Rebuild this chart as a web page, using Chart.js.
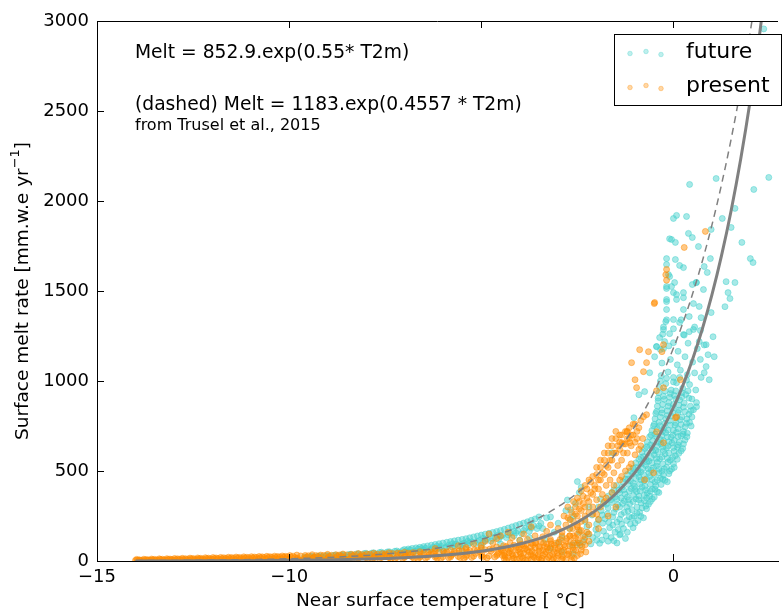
<!DOCTYPE html>
<html lang="en">
<head>
  <meta charset="UTF-8">
  <title>Surface melt vs near surface temperature</title>
  <style>
    body { margin: 0; padding: 0; background: #fff; }
    #wrap { width: 782px; height: 610px; }
  </style>
</head>
<body>
  <div id="wrap"><canvas id="meltChart" width="782" height="610"></canvas></div>

  <script src="https://cdn.jsdelivr.net/npm/chart.js"></script>
  <script>
    // fitted curves (read at these temperatures)
    const curveT = [-14, -13, -12, -11, -10, -9, -8, -7, -6, -5, -4.5, -4, -3.5, -3, -2.5, -2, -1.5, -1, -0.5, 0, 0.25, 0.5, 0.75, 1, 1.25, 1.5, 1.75, 2, 2.25, 2.5, 2.75];
    const solidMelt = [0.39, 0.67, 1.16, 2.01, 3.49, 6.04, 10.47, 18.15, 31.45, 54.5, 71.8, 94.5, 124.4, 163.9, 215.6, 283.9, 373.8, 492.1, 647.9, 852.9, 978.6, 1122.8, 1288.4, 1478.3, 1696.2, 1946.1, 2233.1, 2562.3, 2940, 3373, 3870];
    const dashedMelt = [2.0, 3.16, 5.0, 7.87, 12.4, 19.6, 30.9, 48.7, 76.8, 121.1, 152.2, 191.2, 240.0, 301.5, 378.7, 475.6, 597.2, 750.0, 941.9, 1183, 1325.8, 1485.7, 1665.1, 1865.9, 2091, 2343.5, 2626, 2943, 3298, 3696, 4142];

    // present: [T2m, melt]
    const presentBand = [
      [-14.0,3],[-13.9,7],[-13.8,2],[-13.7,8],[-13.6,4],[-13.5,9],[-13.4,3],[-13.3,10],[-13.2,5],[-13.1,11],
      [-13.0,4],[-12.9,12],[-12.8,6],[-12.7,13],[-12.6,5],[-12.5,14],[-12.4,7],[-12.3,15],[-12.2,6],[-12.1,16],
      [-12.0,8],[-11.9,17],[-11.8,7],[-11.7,18],[-11.6,9],[-11.5,19],[-11.4,8],[-11.3,20],[-11.2,10],[-11.1,21],
      [-11.0,9],[-10.9,22],[-10.8,11],[-10.7,23],[-10.6,10],[-10.5,24],[-10.4,12],[-10.3,25],[-10.2,11],[-10.1,26],
      [-10.0,13],[-9.9,27],[-9.8,12],[-9.7,28],[-9.6,14],[-9.5,29],[-9.4,13],[-9.3,30],[-9.2,15],[-9.1,31],
      [-9.0,14],[-8.9,32],[-8.8,16],[-8.7,33],[-8.6,15],[-8.5,34],[-8.4,17],[-8.3,35],[-8.2,16],[-8.1,36],
      [-8.0,18],[-7.9,37],[-7.8,17],[-7.7,38],[-7.6,19],[-7.5,40],[-7.4,18],[-7.3,41],[-7.2,20],[-7.1,42],
      [-7.0,19],[-6.9,44],[-6.8,21],[-6.7,45],[-6.6,20],[-6.5,47],[-6.4,22],[-6.3,48],[-6.2,21],[-6.1,50],
      [-6.0,23],[-5.9,52],[-5.8,22],[-5.7,54],[-5.6,25],[-5.5,56],[-5.4,24],[-5.3,58],[-5.2,27],[-5.1,60],
      [-5.0,26],[-4.9,63],[-4.8,28],[-4.7,65],[-4.6,30],[-4.5,68],[-4.4,32],
      [-9.95,20],[-9.65,6],[-9.35,22],[-9.05,8],[-8.75,25],[-8.45,9],[-8.15,27],[-7.85,10],[-7.55,29],[-7.25,12],
      [-6.95,32],[-6.65,12],[-6.35,35],[-6.05,14],[-5.75,38],[-5.45,15],[-5.15,42],[-4.85,17],[-4.55,47],
      [-5.6,85],[-5.2,95],[-4.9,110],[-4.7,100],[-5.4,75],[-6.2,70],[-4.6,125],[-5.0,88]
    ];
    const presentBandFill = [
      [-13.95,5],[-13.85,4],[-13.75,6],[-13.65,5],[-13.55,7],[-13.45,6],[-13.35,8],[-13.25,7],[-13.15,8],[-13.05,9],
      [-12.95,8],[-12.85,10],[-12.75,9],[-12.65,10],[-12.55,11],[-12.45,10],[-12.35,12],[-12.25,11],[-12.15,13],[-12.05,12],
      [-11.95,13],[-11.85,14],[-11.75,13],[-11.65,15],[-11.55,14],[-11.45,16],[-11.35,15],[-11.25,17],[-11.15,16],[-11.05,18],
      [-10.95,17],[-10.85,19],[-10.75,18],[-10.65,20],[-10.55,19],[-10.45,21],[-10.35,20],[-10.25,22],[-10.15,21],[-10.05,23],
      [-9.85,20],[-9.75,5],[-9.55,22],[-9.45,6],[-9.25,24],[-9.15,7],[-8.95,26],[-8.85,8],[-8.65,27],[-8.55,9],
      [-8.35,28],[-8.25,10],[-8.05,30],[-7.95,11],[-7.75,31],[-7.65,12],[-7.45,33],[-7.35,13],[-7.15,35],[-7.05,14],
      [-6.85,37],[-6.75,15],[-6.55,39],[-6.45,16],[-6.25,41],[-6.15,17],[-5.95,43],[-5.85,18],[-5.65,46],[-5.55,19],
      [-5.35,49],[-5.25,20],[-5.05,52],[-4.95,21],[-4.75,55],[-4.65,22],[-4.45,58],
      [-9.8,33],[-9.4,35],[-9.0,37],[-8.6,39],[-8.2,41],[-7.8,43],[-7.4,46],[-7.0,49],[-6.6,52],[-6.2,56],
      [-5.8,60],[-5.4,66],[-5.0,72],[-4.6,78],
      [-13.97,9],[-13.88,3],[-13.78,10],[-13.68,3],[-13.58,11],[-13.48,4],[-13.38,12],[-13.28,4],[-13.18,13],[-13.08,5],
      [-12.98,14],[-12.88,5],[-12.78,15],[-12.68,6],[-12.58,16],[-12.48,6],[-12.38,17],[-12.28,7],[-12.18,18],[-12.08,7],
      [-11.98,19],[-11.88,8],[-11.78,20],[-11.68,8],[-11.58,21],[-11.48,9],[-11.38,22],[-11.28,9],[-11.18,23],[-11.08,10],
      [-10.98,24],[-10.88,10],[-10.78,25],[-10.68,11],[-10.58,26],[-10.48,11],[-10.38,27],[-10.28,12],[-10.18,28],[-10.08,12],
      [-9.98,30],[-9.78,16],[-9.58,31],[-9.38,17],[-9.18,33],[-8.98,18],[-8.78,35],[-8.58,19],[-8.38,37],[-8.18,20],
      [-7.98,39],[-7.78,22],[-7.58,41],[-7.38,23],[-7.18,44],[-6.98,25],[-6.78,47],[-6.58,26],[-6.38,50],[-6.18,28],
      [-5.98,53],[-5.78,30],[-5.58,57],[-5.38,32],[-5.18,61],[-4.98,34],[-4.78,66],[-4.58,37]
    ];
    const presentLow = [
      [-4.4,12],[-4.4,45],[-4.35,80],[-4.3,20],[-4.25,55],[-4.2,10],[-4.15,88],[-4.1,35],[-4.05,60],[-4.0,15],
      [-3.95,92],[-3.9,42],[-3.85,70],[-3.8,8],[-3.75,50],[-3.7,98],[-3.65,25],[-3.6,75],[-3.55,12],[-3.5,55],
      [-3.45,105],[-3.4,30],[-3.35,80],[-3.3,10],[-3.25,60],[-3.2,110],[-3.15,38],[-3.1,88],[-3.05,15],[-3.0,65],
      [-2.95,120],[-2.9,30],[-2.85,90],[-2.8,8],[-2.75,55],[-2.7,140],[-2.65,25],[-2.6,100],[-2.55,60],[-2.5,150],
      [-4.2,130],[-3.9,150],[-3.6,140],[-3.3,165],[-3.0,180],[-3.8,120],[-3.4,135],[-4.5,140],[-4.0,115],
      [-4.8,150],[-4.3,160],[-3.7,190],[-3.2,200],
      [-4.45,30],[-4.35,5],[-4.3,65],[-4.2,40],[-4.15,15],[-4.1,75],[-4.0,50],[-3.95,25],[-3.9,85],[-3.85,5],
      [-3.8,60],[-3.7,35],[-3.7,10],[-3.65,90],[-3.6,45],[-3.5,20],[-3.5,80],[-3.45,5],[-3.4,60],[-3.35,40],
      [-3.3,95],[-3.25,20],[-3.2,75],[-3.15,5],[-3.1,50],[-3.05,100],[-3.0,30],[-2.95,80],[-2.9,10],[-2.85,60],
      [-2.8,110],[-2.75,35],[-2.7,85],[-2.65,5],[-2.6,60],[-2.55,130],[-2.5,30],[-2.45,100],[-2.4,60],[-2.35,140],
      [-2.3,90],[-4.0,90],[-3.6,100],[-3.2,120],[-2.9,140],[-4.25,100],
      [-4.48,60],[-4.42,85],[-4.38,25],[-4.28,45],[-4.22,70],[-4.18,30],[-4.08,10],[-4.02,70],[-3.98,40],[-3.92,15],
      [-3.88,65],[-3.82,95],[-3.78,30],[-3.72,75],[-3.68,55],[-3.62,20],[-3.58,100],[-3.52,35],[-3.48,70],[-3.42,15],
      [-3.38,100],[-3.32,50],[-3.28,75],[-3.22,30],[-3.18,95],[-3.12,15],[-3.08,70],[-3.02,45],[-2.98,105],[-2.92,55],
      [-2.88,20],[-2.82,80],[-2.78,125],[-2.72,40],[-2.68,105],[-2.62,75],[-2.58,15],[-2.52,90],[-2.48,115],[-2.42,40],
      [-2.38,80],[-2.32,120],[-2.28,50],[-2.25,160],[-2.45,170],[-2.62,180],[-2.2,110]
    ];
    const presentCloud = [
      [-2.9,160],[-2.8,200],[-2.75,240],[-2.7,180],[-2.65,270],[-2.6,220],[-2.55,300],[-2.5,250],[-2.5,190],[-2.45,330],
      [-2.4,280],[-2.4,220],[-2.35,360],[-2.3,300],[-2.3,250],[-2.25,400],[-2.2,330],[-2.2,270],[-2.15,440],[-2.1,370],
      [-2.1,300],[-2.05,420],[-2.0,480],[-2.0,340],[-1.95,400],[-1.9,520],[-1.9,450],[-1.85,370],[-1.8,560],[-1.8,480],
      [-1.75,420],[-1.7,600],[-1.7,520],[-1.65,450],[-1.6,640],[-1.6,560],[-1.55,490],[-1.5,680],[-1.5,600],[-1.45,530],
      [-1.4,620],[-1.4,700],[-1.35,560],[-1.3,650],[-1.25,720],[-1.2,600],[-1.2,680],[-1.15,740],[-1.1,640],[-1.05,700],
      [-1.0,760],[-1.0,660],[-0.95,720],[-0.9,620],[-0.85,780],[-0.8,680],
      [-2.0,260],[-1.8,330],[-1.6,380],[-1.4,450],[-1.25,500],[-1.1,540],[-2.6,140],[-2.4,170],[-2.2,200],[-1.95,230],
      [-0.52,490],[-0.75,451],[-0.26,657],[0.08,801],[-0.44,718],[-1.21,718],[-1.34,657],[-1.14,657],[-0.7,813],[-0.78,801],
      [-2.85,250],[-2.75,300],[-2.7,230],[-2.6,330],[-2.55,260],[-2.5,350],[-2.45,290],[-2.4,390],[-2.35,320],[-2.3,420],
      [-2.25,350],[-2.2,450],[-2.15,380],[-2.1,470],[-2.05,400],[-2.0,520],[-1.95,450],[-1.9,560],[-1.85,490],[-1.8,600],
      [-1.75,530],[-1.7,640],[-1.65,560],[-1.6,680],[-1.55,600],[-1.5,720],[-1.45,640],[-1.4,660],[-1.35,700],[-1.3,600],
      [-1.25,650],[-1.2,720],[-1.15,680],[-1.1,700],[-1.05,760],[-0.95,680],[-0.9,740],[-2.7,140],[-2.5,200],[-2.3,230],
      [-2.1,260],[-1.9,300],[-1.75,350],[-1.55,420],[-1.35,470],[-1.15,520],[-1.0,590],[-0.85,640],[-2.2,150],[-1.95,180],
      [-1.7,250],[-1.5,300]
    ];
    const presentSparse = [
      [-1.09,1102],[-0.88,1174],[-0.65,1163],[-0.7,1102],[-0.78,1052],[-1.0,1007],[-0.96,963],[-0.49,1436],
      [-0.44,946],[-0.26,1202],[-0.3,1163],[-0.18,1560],[-0.18,1620],[-0.2,1590],[0.28,1742],[0.83,1831],
      [0.18,1007],[0.05,796],[-0.26,963],[-0.5,1430]
    ];

    // future: [T2m, melt]
    const futureBand = [
      [-9.6,22],[-9.5,12],[-9.4,26],[-9.3,14],[-9.2,28],[-9.1,16],[-9.0,31],[-8.9,18],[-8.8,33],[-8.7,20],
      [-8.6,35],[-8.5,22],[-8.4,37],[-8.3,24],[-8.2,40],[-8.1,26],[-8.0,43],[-7.9,28],[-7.8,46],[-7.7,31],
      [-7.6,49],[-7.5,34],[-7.4,52],[-7.3,37],[-7.2,56],[-7.1,40],
      [-7.0,64],[-6.8,70],[-6.6,76],[-6.4,84],[-6.2,92],[-6.0,100],[-5.8,108],[-5.6,116],[-5.4,124],[-5.2,134],
      [-5.0,144],[-4.8,154],[-4.6,164],[-4.4,176],[-4.2,190],[-4.0,204],[-3.8,218],[-3.6,234],[-3.5,245],
      [-7.1,45],[-6.9,50],[-6.7,55],[-6.5,60],[-6.3,66],[-6.1,72],[-5.9,78],[-5.7,85],[-5.5,92],[-5.3,100],
      [-5.1,108],[-4.9,116],[-4.7,125],[-4.5,135],[-4.3,145],[-4.1,157],[-3.9,170],[-3.7,183],[-3.5,195],
      [-6.0,55],[-5.5,65],[-5.0,80],[-4.5,95],[-4.0,115],[-3.75,130],
      [-6.9,67],[-6.7,73],[-6.5,80],[-6.3,88],[-6.1,96],[-5.9,104],[-5.7,112],[-5.5,120],[-5.3,129],[-5.1,139],
      [-4.9,149],[-4.7,159],[-4.5,170],[-4.3,183],[-4.1,197],[-3.9,211],[-3.7,226],
      [-6.95,58],[-6.55,70],[-6.15,82],[-5.75,96],[-5.35,110],[-4.95,126],[-4.55,145],[-4.15,165],[-3.75,190],
      [-9.55,18],[-9.45,24],[-9.35,20],[-9.25,27],[-9.15,22],[-9.05,29],[-8.95,25],[-8.85,31],[-8.75,27],[-8.65,34],
      [-8.55,29],[-8.45,36],[-8.35,32],[-8.25,39],[-8.15,34],[-8.05,41],[-7.95,37],[-7.85,44],[-7.75,40],[-7.65,47],
      [-7.55,43],[-7.45,50],[-7.35,46],[-7.25,54],[-7.15,50],[-7.05,58],[-6.95,48],[-6.85,62],[-6.75,52],[-6.65,66],
      [-6.55,57],[-6.45,71],[-6.35,61],[-6.25,76],[-6.15,66],[-6.05,82],[-5.95,72],[-5.85,88],[-5.75,77],[-5.65,94],
      [-5.55,83],[-5.45,100],[-5.35,89],[-5.25,107],[-5.15,96],[-5.05,115],[-4.95,103],[-4.85,124],[-4.75,111],[-4.65,133],
      [-4.55,120],[-4.45,143],[-4.35,130],[-4.25,155],[-4.15,140],[-4.05,168],[-3.95,152],[-3.85,182],[-3.75,165],[-3.65,198],
      [-3.55,180],[-3.45,210]
    ];
    const futureLow = [
      [-3.4,180],[-3.3,240],[-3.2,245],[-3.1,160],[-3.0,210],[-2.9,130],[-2.8,280],[-2.76,339],[-2.64,89],[-2.5,441],
      [-2.3,134],[-3.35,120],[-3.0,100],[-2.7,180],[-2.6,250],[-2.55,320],[-2.45,380],[-3.2,70],[-2.9,50],[-2.6,40],
      [-2.68,285],[-2.68,230],[-2.5,100],[-1.86,117],[-1.4,145],[-1.47,100],[-2.43,89],[-2.2,300],[-2.4,410]
    ];
    const futureCloud = [
      [-2.35,105],[-2.1,130],[-1.92,98],[-1.75,140],[-1.55,112],[-1.38,150],[-2.45,160],[-1.25,125],
      [-2.25,190],[-2.02,175],[-1.84,210],[-1.66,185],[-1.47,215],[-1.3,180],[-1.12,205],[-1.95,230],[-1.58,245],
      [-2.12,255],[-1.88,280],[-1.72,262],[-1.5,290],[-1.36,258],[-1.18,278],[-1.02,250],[-0.88,270],[-0.78,240],
      [-1.82,320],[-1.63,340],[-1.45,312],[-1.28,335],[-1.14,318],[-0.98,345],[-0.84,322],[-0.7,350],[-0.6,330],
      [-1.6,380],[-1.42,395],[-1.26,372],[-1.1,402],[-0.96,385],[-0.82,410],[-0.68,378],[-0.55,400],[-0.42,385],
      [-1.32,440],[-1.18,455],[-1.04,432],[-0.9,468],[-0.76,445],[-0.62,470],[-0.48,438],[-0.34,460],[-0.22,448],
      [-1.12,500],[-0.98,520],[-0.85,495],[-0.72,530],[-0.58,505],[-0.44,528],[-0.3,498],[-0.18,520],[-0.05,510],
      [-0.9,565],[-0.78,580],[-0.64,555],[-0.5,590],[-0.36,568],[-0.22,595],[-0.08,560],[0.05,585],
      [-0.75,625],[-0.6,645],[-0.46,615],[-0.32,650],[-0.18,628],[-0.04,655],[0.1,632],[0.2,612],
      [-0.62,690],[-0.48,705],[-0.34,675],[-0.2,712],[-0.06,688],[0.08,715],[0.2,695],[0.3,672],
      [-0.52,750],[-0.38,770],[-0.24,740],[-0.1,780],[0.04,755],[0.18,785],[0.3,745],[0.42,770],
      [-0.46,820],[-0.3,840],[-0.16,808],[-0.02,850],[0.12,825],[0.26,855],[0.4,815],[0.52,840],
      [-0.4,890],[-0.26,915],[-0.12,880],[0.02,920],[0.16,895],[0.32,925],[0.48,900],[0.6,880],
      [-0.36,965],[-0.2,985],[-0.06,950],[0.08,990],[0.24,960],[0.42,980],[0.58,950],
      [-0.32,1030],[-0.14,1050],[0.0,1020],[0.18,1060],[0.36,1035],[0.55,1045],[0.72,1020],
      [-0.3,1100],[-0.08,1120],[0.1,1090],[0.3,1135],[0.5,1105],[0.7,1120],[0.85,1080],
      [-0.34,1175],[-0.12,1195],[0.12,1165],[0.38,1210],[0.62,1180],[0.8,1200],
      [-0.28,1260],[0.0,1290],[0.28,1255],[0.55,1300],[-0.2,1330],[0.2,1340],[0.7,1280],
      [-2.22,150],[-2.0,115],[-1.82,165],[-1.62,130],[-1.44,175],[-1.2,160],[-1.05,185],
      [-2.0,205],[-1.78,235],[-1.58,200],[-1.4,232],[-1.22,225],[-1.08,240],[-0.92,225],
      [-1.95,300],[-1.7,295],[-1.55,270],[-1.4,300],[-1.22,300],[-1.08,285],[-0.95,300],[-0.82,295],[-0.7,290],
      [-1.7,360],[-1.52,355],[-1.36,350],[-1.2,355],[-1.04,365],[-0.9,360],[-0.76,365],[-0.62,360],[-0.5,355],
      [-1.48,420],[-1.34,410],[-1.18,425],[-1.02,415],[-0.88,428],[-0.74,415],[-0.6,425],[-0.46,418],[-0.32,425],
      [-1.2,480],[-1.06,485],[-0.92,490],[-0.78,480],[-0.64,490],[-0.5,482],[-0.38,490],[-0.26,478],[-0.12,485],
      [-0.98,545],[-0.84,540],[-0.7,550],[-0.56,545],[-0.42,548],[-0.28,540],[-0.14,550],[0.0,540],
      [-0.82,605],[-0.68,600],[-0.54,610],[-0.4,605],[-0.26,612],[-0.12,600],[0.02,610],[0.14,598],
      [-0.68,660],[-0.54,668],[-0.4,660],[-0.26,668],[-0.12,662],[0.02,670],[0.15,660],[0.26,650],
      [-0.56,725],[-0.42,735],[-0.28,720],[-0.14,728],[0.0,725],[0.12,735],[0.26,720],[0.36,710],
      [-0.48,790],[-0.34,800],[-0.2,790],[-0.06,805],[0.08,795],[0.22,800],[0.35,790],[0.48,800],
      [-0.42,860],[-0.28,870],[-0.14,860],[0.0,870],[0.14,865],[0.28,878],[0.44,860],
      [-0.38,935],[-0.22,945],[-0.08,930],[0.06,945],[0.22,935],[0.38,945]
    ];
    const futureCloudFill = [
      [-2.3,220],[-2.15,95],[-1.98,150],[-1.85,255],[-1.7,110],[-1.68,215],[-1.52,160],[-1.35,205],[-1.28,270],[-1.15,245],
      [-1.0,210],[-0.95,265],[-0.85,248],[-0.72,305],
      [-1.9,345],[-1.75,315],[-1.6,325],[-1.47,345],[-1.32,320],[-1.17,340],[-1.05,330],[-0.9,340],[-0.76,335],[-0.65,315],[-0.55,345],
      [-1.55,395],[-1.4,380],[-1.3,395],[-1.15,388],[-1.0,398],[-0.87,390],[-0.72,395],[-0.6,388],[-0.48,398],[-0.38,380],
      [-1.25,455],[-1.12,445],[-0.98,458],[-0.84,450],[-0.7,455],[-0.56,452],[-0.42,450],[-0.28,455],[-0.16,440],
      [-1.05,515],[-0.92,505],[-0.8,515],[-0.66,512],[-0.52,518],[-0.38,510],[-0.24,512],[-0.1,500],[0.02,520],
      [-0.85,575],[-0.72,565],[-0.58,575],[-0.44,570],[-0.3,578],[-0.16,570],[-0.02,575],[0.1,565],
      [-0.7,635],[-0.56,630],[-0.42,640],[-0.28,632],[-0.14,640],[0.0,630],[0.12,645],[0.24,625],
      [-0.58,700],[-0.44,690],[-0.3,698],[-0.16,690],[-0.02,700],[0.12,692],[0.25,705],[0.35,690],
      [-0.5,760],[-0.36,752],[-0.22,765],[-0.08,755],[0.06,768],[0.2,758],[0.34,765],[0.46,750],
      [-0.44,830],[-0.3,822],[-0.16,835],[-0.02,825],[0.14,838],[0.3,830],[0.46,835],
      [-0.4,905],[-0.24,898],[-0.1,910],[0.06,900],[0.22,912],[0.4,905],
      [-0.34,1000],[-0.18,1015],[0.0,995],[0.16,1020],[0.34,1005]
    ];
    const futureSparse = [
      [0.42,2092],[1.11,2125],[2.48,2131],[2.09,2064],[2.35,2956],[0.0,1903],[0.08,1920],[0.34,1914],[-0.1,1790],[-0.05,1786],
      [0.05,1770],[0.39,1820],[0.49,1797],[0.65,1747],[0.98,1842],[1.27,1903],[1.5,1853],[1.6,1959],[1.78,1770],[2.0,1680],
      [2.07,1658],[-0.18,1680],[0.05,1675],[0.16,1642],[0.26,1630],[0.96,1680],[0.8,1636],[0.88,1603],[0.59,1547],[0.49,1536],
      [-0.18,1647],[-0.13,1591],[-0.1,1580],[-0.18,1514],[-0.05,1525],[0.03,1547],[-0.18,1441],[0.08,1480],[0.26,1463],[0.52,1430],
      [0.72,1352],[0.98,1380],[1.37,1552],[1.47,1458],[1.6,1547],[1.42,1491],[1.34,1413],[1.03,1246],[0.85,1202],[0.67,1219],
      [0.41,1274],[0.26,1258],[-0.26,1300],[-0.18,1340],[-0.1,1263],[-0.36,1241],[-0.23,1219],[0.0,1213],[-0.44,1191],[-0.26,1180],
      [1.06,1135],[0.93,1007],[0.8,1046],[0.6,857],[0.9,1146],[-0.9,924],[-0.75,941],[-1.03,796],[-1.6,601],[-0.62,1046],
      [-0.49,1135],[-0.44,1191],[-0.18,1525],[0.0,1491],[0.08,1453],[0.26,1397],[0.41,1358],[-0.18,1397],[-0.26,1286],[0.0,1341],
      [0.16,1325],[0.52,1286],[0.67,1414],[0.78,1508],[0.6,1547],[-0.18,1453],[0.26,1491]
    ];

    const xTicks = [-15, -10, -5, 0];
    const yTicks = [0, 500, 1000, 1500, 2000, 2500, 3000];

    const FONT = "'DejaVu Sans', sans-serif";
    const TURQ = 'rgba(72, 209, 204, 0.48)';
    const ORNG = 'rgba(255, 140, 0, 0.48)';

    const toXY = pts => pts.map(p => ({ x: p[0], y: p[1] }));
    const curve = vals => curveT.map((t, i) => ({ x: t, y: vals[i] }));
    const minus = v => String(v).replace('-', '\u2212');

    // top spine, inward ticks, titles, notes and legend
    const decorations = {
      id: 'decorations',
      afterDatasetsDraw(chart) {
        const { ctx, chartArea: a, scales } = chart;
        ctx.save();
        ctx.strokeStyle = '#000';
        ctx.lineWidth = 1;
        ctx.beginPath();
        ctx.moveTo(a.left, a.top + 0.5);
        ctx.lineTo(a.right, a.top + 0.5);
        xTicks.forEach(v => {
          const px = Math.round(scales.x.getPixelForValue(v)) + 0.5;
          ctx.moveTo(px, a.bottom); ctx.lineTo(px, a.bottom - 7);
          ctx.moveTo(px, a.top); ctx.lineTo(px, a.top + 7);
        });
        yTicks.forEach(v => {
          const py = Math.round(scales.y.getPixelForValue(v)) + 0.5;
          ctx.moveTo(a.left, py); ctx.lineTo(a.left + 7, py);
        });
        ctx.stroke();
        ctx.restore();
      },
      afterDraw(chart) {
        const { ctx, chartArea: a } = chart;
        ctx.save();
        ctx.fillStyle = '#000';
        ctx.textBaseline = 'middle';
        ctx.textAlign = 'left';

        // notes
        ctx.font = '18.7px ' + FONT;
        ctx.fillText('Melt = 852.9.exp(0.55* T2m)', 135, 53);
        ctx.fillText('(dashed) Melt = 1183.exp(0.4557 * T2m)', 135, 105);
        ctx.font = '16px ' + FONT;
        ctx.fillText('from Trusel et al., 2015', 135, 126);

        // x title
        ctx.font = '18.5px ' + FONT;
        ctx.textAlign = 'center';
        ctx.fillText('Near surface temperature [ \u00b0C]', (a.left + a.right) / 2 + 3, 601);

        // y title with superscript
        ctx.translate(23, (a.top + a.bottom) / 2);
        ctx.rotate(-Math.PI / 2);
        const main = 'Surface melt rate [mm.w.e yr';
        ctx.font = '18.5px ' + FONT;
        const w1 = ctx.measureText(main).width;
        ctx.font = '13px ' + FONT;
        const w2 = ctx.measureText('\u22121').width;
        ctx.font = '18.5px ' + FONT;
        const w3 = ctx.measureText(']').width;
        const x0 = -(w1 + w2 + w3) / 2;
        ctx.textAlign = 'left';
        ctx.fillText(main, x0, 0);
        ctx.font = '13px ' + FONT;
        ctx.fillText('\u22121', x0 + w1, -7);
        ctx.font = '18.5px ' + FONT;
        ctx.fillText(']', x0 + w1 + w2, 0);
        ctx.setTransform(1, 0, 0, 1, 0, 0);

        // legend
        ctx.fillStyle = '#fff';
        ctx.fillRect(614, 34, 167, 72);
        ctx.strokeStyle = '#000';
        ctx.lineWidth = 1;
        ctx.strokeRect(614.5, 34.5, 167, 71);
        const dots = [[630, 1.5], [646, -0.5], [661, 2.5]];
        [['future', 'rgba(72, 209, 204, 0.35)', 52], ['present', 'rgba(255, 140, 0, 0.35)', 86]].forEach(([label, col, cy]) => {
          dots.forEach(([dx, dy]) => {
            ctx.beginPath();
            ctx.arc(dx, cy + dy, 2.3, 0, Math.PI * 2);
            ctx.fillStyle = col;
            ctx.fill();
            ctx.strokeStyle = col;
            ctx.stroke();
          });
          ctx.fillStyle = '#000';
          ctx.font = '22px ' + FONT;
          ctx.textAlign = 'left';
          ctx.fillText(label, 686, cy);
        });
        ctx.restore();
      }
    };

    const scatterStyle = col => ({
      showLine: false,
      backgroundColor: col,
      borderColor: col,
      borderWidth: 1,
      pointRadius: 3,
      pointHoverRadius: 3,
      clip: 0
    });

    new Chart(document.getElementById('meltChart'), {
      type: 'scatter',
      data: {
        datasets: [
          {
            label: 'fit',
            data: curve(solidMelt),
            showLine: true,
            borderColor: '#808080',
            borderWidth: 3,
            pointRadius: 0,
            cubicInterpolationMode: 'monotone',
            clip: 0,
            order: 0
          },
          {
            label: 'Trusel',
            data: curve(dashedMelt),
            showLine: true,
            borderColor: '#808080',
            borderWidth: 1.5,
            borderDash: [7, 5],
            pointRadius: 0,
            cubicInterpolationMode: 'monotone',
            clip: 0,
            order: 0
          },
          Object.assign({
            label: 'present',
            data: toXY([...presentBand, ...presentBandFill, ...presentLow, ...presentCloud, ...presentSparse]),
            order: 1
          }, scatterStyle(ORNG)),
          Object.assign({
            label: 'future',
            data: toXY([...futureBand, ...futureLow, ...futureCloud, ...futureCloudFill, ...futureSparse]),
            order: 2
          }, scatterStyle(TURQ))
        ]
      },
      options: {
        responsive: false,
        animation: false,
        layout: { padding: { top: 21, right: 0, left: 0, bottom: 0 } },
        plugins: { legend: { display: false }, tooltip: { enabled: false } },
        scales: {
          x: {
            type: 'linear',
            min: -15,
            max: 2.72,
            afterBuildTicks: s => { s.ticks = xTicks.map(v => ({ value: v })); },
            afterFit: s => { s.height = 49; },
            grid: { drawOnChartArea: false, drawTicks: false },
            border: { color: '#000', width: 1 },
            ticks: {
              autoSkip: false,
              maxRotation: 0,
              padding: 6,
              color: '#000',
              font: { family: FONT, size: 18 },
              callback: v => minus(v)
            }
          },
          y: {
            type: 'linear',
            min: 0,
            max: 3000,
            afterBuildTicks: s => { s.ticks = yTicks.map(v => ({ value: v })); },
            afterFit: s => { s.width = 97; },
            grid: { drawOnChartArea: false, drawTicks: false },
            border: { color: '#000', width: 1 },
            ticks: {
              padding: 8,
              color: '#000',
              font: { family: FONT, size: 18 },
              callback: v => String(v)
            }
          }
        }
      },
      plugins: [decorations]
    });
  </script>
</body>
</html>
